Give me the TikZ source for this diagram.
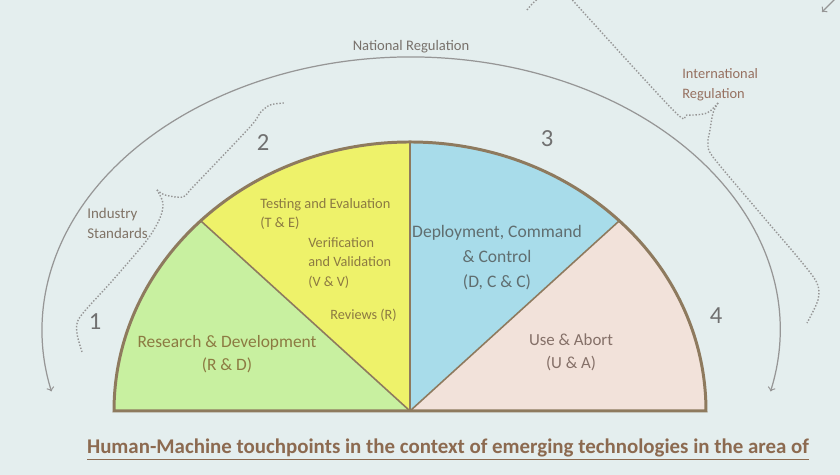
\documentclass[tikz,border=0pt]{standalone}
\usepackage{fontspec}
\setmainfont{Carlito}
\usetikzlibrary{arrows}

\definecolor{slidebg}{RGB}{228,238,238}
\definecolor{rdgreen}{RGB}{200,240,160}
\definecolor{tevyellow}{RGB}{238,242,106}
\definecolor{dccblue}{RGB}{168,220,234}
\definecolor{uapink}{RGB}{242,226,218}
\definecolor{rimbrown}{RGB}{142,122,94}
\definecolor{arcgray}{RGB}{150,150,150}
\definecolor{numgray}{RGB}{112,112,112}
\definecolor{olivetext}{RGB}{140,122,66}
\definecolor{bluetext}{RGB}{96,110,112}
\definecolor{pinktext}{RGB}{133,112,104}
\definecolor{regtext}{RGB}{150,112,96}
\definecolor{titletext}{RGB}{140,106,80}

\begin{document}
\begin{tikzpicture}[x=0.02cm, y=0.02cm,
    rim/.style={draw=rimbrown, line width=1.7pt},
    divider/.style={draw=rimbrown, line width=0.9pt},
    regarc/.style={draw=arcgray, line width=0.7pt},
    brace/.style={draw=arcgray, line width=0.8pt, densely dotted},
    num/.style={text=numgray, font=\fontsize{14}{14}\selectfont},
    note/.style={inner sep=0pt, align=left, font=\fontsize{8.3}{11.3}\selectfont}]
\clip (0,0) rectangle (840,475);
\fill[slidebg] (0,0) rectangle (840,475);

% the four phases
\coordinate (base) at (410,64);
\foreach \from/\to/\col in {0/45/uapink, 45/90/dccblue, 90/135/tevyellow, 135/180/rdgreen}
	\fill[\col] (base) -- ++(\from:296 and 269) arc[start angle=\from, end angle=\to, x radius=296, y radius=269] -- cycle;
\foreach \a in {45,90,135}
	\draw[divider] (base) -- ++(\a:296 and 269);
\draw[rim] (base) ++(180:296 and 269) arc[start angle=180, end angle=0, x radius=296, y radius=269] -- cycle;

% regulation arcs and braces
\draw[regarc, <->] (411,145) ++(-13:369 and 273) arc[start angle=-13, end angle=193, x radius=369, y radius=273];
\draw[brace] plot[smooth] coordinates {(82,123) (77,142) (80,158) (113,195) (147,235) (160,257) (163,272) (157,285)};
\draw[brace] plot[smooth] coordinates {(157,285) (165,280) (183,278) (193,288) (250,348) (260,362) (270,370) (284,372)};
\draw[brace] plot[smooth] coordinates {(566,482) (673,365) (687,360) (707,362) (718,372)};
\draw[brace] plot[smooth] coordinates {(718,372) (713,362) (710,345) (708,332) (713,318) (760,262) (800,215) (817,192) (818,175) (807,152)};
\draw[brace] plot[smooth] coordinates {(527,465) (533,472) (540,478)};
\draw[regarc, ->] (838,479) -- (822,463);

% labels
\node[note, text=numgray!90!brown] (natreg) at (411,428) {National Regulation};
\node[note, text=regtext, anchor=west, font=\fontsize{8.2}{11.3}\selectfont] (intreg) at (682,390) {International\\Regulation};
\node[note, text=numgray!80!brown, anchor=west, font=\fontsize{8.5}{11.3}\selectfont] (indstd) at (87,252) {Industry\\Standards};

\node[num] (one) at (95,153) {1};
\node[num] (two) at (263,332) {2};
\node[num] (three) at (547,336) {3};
\node[num] (four) at (716,159) {4};

\node[note, text=olivetext, anchor=west, font=\fontsize{8.2}{11.3}\selectfont] (tande) at (260,261) {Testing and Evaluation\\(T \& E)};
\node[note, text=olivetext, anchor=west, font=\fontsize{8.1}{11}\selectfont] (vandv) at (308,212) {Verification\\and Validation\\(V \& V)};
\node[note, text=olivetext, anchor=west, font=\fontsize{8.1}{11}\selectfont] (rev) at (330,160) {Reviews (R)};
\node[note, text=olivetext, align=center, font=\fontsize{9.9}{13}\selectfont] (randd) at (227,121) {Research \& Development\\(R \& D)};
\node[note, text=bluetext, align=center, font=\fontsize{10}{14.2}\selectfont] (dcc) at (497,217) {Deployment, Command\\\& Control\\(D, C \& C)};
\node[note, text=pinktext, align=center, font=\fontsize{9.6}{13}\selectfont] (uanda) at (571,123) {Use \& Abort\\(U \& A)};

\node[note, text=titletext, font=\bfseries\fontsize{11.9}{13}\selectfont] (title) at (448,25) {\underline{Human-Machine touchpoints in the context of emerging technologies in the area of}};
\end{tikzpicture}
\end{document}
